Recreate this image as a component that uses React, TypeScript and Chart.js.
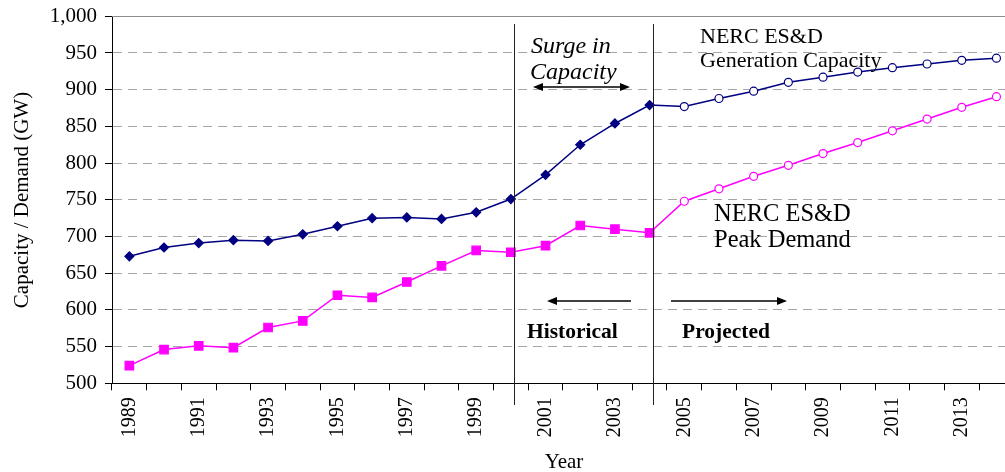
import React, { useEffect, useRef } from 'react';
import { Chart, registerables } from 'chart.js';

Chart.register(...registerables);

const YEARS = [
  '1989', '1990', '1991', '1992', '1993', '1994', '1995', '1996', '1997', '1998', '1999', '2000', '2001',
  '2002', '2003', '2004', '2005', '2006', '2007', '2008', '2009', '2010', '2011', '2012', '2013', '2014',
];
const CAPACITY = [
  673, 685, 691, 695, 694, 703, 714, 725, 726, 724, 733, 751, 784,
  825, 854, 879, 877, 888, 898, 910, 917, 924, 930, 935, 940, 943,
];
const DEMAND = [
  524, 546, 551, 548.5, 576, 585, 620, 617, 638, 660, 681, 678.5, 687.5,
  715, 710, 705, 748, 765, 782, 797, 813, 828, 844, 860, 876, 890.5,
];
const HISTORICAL_COUNT = 16; // 1989-2004 historical, 2005+ projected
const Y_MIN = 500;
const Y_MAX = 1000;
const Y_STEP = 50;

const NAVY = '#000080';
const MAGENTA = '#FF00FF';
const FONT = "'Liberation Serif', 'Times New Roman', serif";

function arrow(ctx: CanvasRenderingContext2D, x1: number, x2: number, y: number, headStart: boolean, headEnd: boolean) {
  ctx.save();
  ctx.strokeStyle = '#000';
  ctx.fillStyle = '#000';
  ctx.lineWidth = 1.5;
  const hl = 10;
  const hw = 4;
  ctx.beginPath();
  ctx.moveTo(x1 + (headStart ? hl - 2 : 0), y);
  ctx.lineTo(x2 - (headEnd ? hl - 2 : 0), y);
  ctx.stroke();
  if (headStart) {
    ctx.beginPath();
    ctx.moveTo(x1, y);
    ctx.lineTo(x1 + hl, y - hw);
    ctx.lineTo(x1 + hl, y + hw);
    ctx.closePath();
    ctx.fill();
  }
  if (headEnd) {
    ctx.beginPath();
    ctx.moveTo(x2, y);
    ctx.lineTo(x2 - hl, y - hw);
    ctx.lineTo(x2 - hl, y + hw);
    ctx.closePath();
    ctx.fill();
  }
  ctx.restore();
}

const annotationPlugin = {
  id: 'annotations',
  afterDraw(chart: any) {
    const ctx: CanvasRenderingContext2D = chart.ctx;
    const area = chart.chartArea;
    const xs = chart.scales.x;
    ctx.save();

    // top border of plot
    ctx.strokeStyle = '#8c8c8c';
    ctx.lineWidth = 1;
    ctx.beginPath();
    ctx.moveTo(area.left, Math.round(area.top) + 0.5);
    ctx.lineTo(area.right, Math.round(area.top) + 0.5);
    ctx.stroke();

    // historical / projected separators
    ctx.strokeStyle = '#222';
    [11.08, 15.1].forEach((v) => {
      const x = Math.round(xs.getPixelForValue(v)) + 0.5;
      ctx.beginPath();
      ctx.moveTo(x, 24);
      ctx.lineTo(x, 405);
      ctx.stroke();
    });

    ctx.fillStyle = '#000';
    ctx.textBaseline = 'middle';
    ctx.textAlign = 'left';

    ctx.font = `italic 24px ${FONT}`;
    ctx.fillText('Surge in', 531, 47);
    ctx.fillText('Capacity', 530, 73);
    arrow(ctx, 533, 630, 87, true, true);

    ctx.font = `22px ${FONT}`;
    ctx.fillText('NERC ES&D', 700, 37);
    ctx.fillText('Generation Capacity', 700, 61);

    ctx.font = `24.5px ${FONT}`;
    ctx.fillText('NERC ES&D', 714, 215);
    ctx.fillText('Peak Demand', 714, 241);

    arrow(ctx, 547, 631, 301, true, false);
    arrow(ctx, 671, 787, 301, false, true);

    ctx.font = `bold 21.5px ${FONT}`;
    ctx.fillText('Historical', 527, 332);
    ctx.fillText('Projected', 682, 332);

    // axis titles
    ctx.font = `21px ${FONT}`;
    ctx.textAlign = 'center';
    ctx.fillText('Year', 564, 462);
    ctx.save();
    ctx.translate(22, 200);
    ctx.rotate(-Math.PI / 2);
    ctx.fillText('Capacity / Demand (GW)', 0, 0);
    ctx.restore();

    ctx.restore();
  },
};

export default function App() {
  const canvasRef = useRef<HTMLCanvasElement | null>(null);

  useEffect(() => {
    const canvas = canvasRef.current;
    if (!canvas) return;
    const isHist = (i: number) => i < HISTORICAL_COUNT;
    const chart = new Chart(canvas, {
      type: 'line',
      data: {
        labels: YEARS,
        datasets: [
          {
            label: 'NERC ES&D Generation Capacity',
            data: CAPACITY,
            borderColor: NAVY,
            borderWidth: 1.5,
            tension: 0,
            pointStyle: CAPACITY.map((_, i) => (isHist(i) ? 'rectRot' : 'circle')) as any,
            pointRadius: CAPACITY.map((_, i) => (isHist(i) ? 4.5 : 4)),
            pointBackgroundColor: CAPACITY.map((_, i) => (isHist(i) ? NAVY : '#ffffff')),
            pointBorderColor: NAVY,
            pointBorderWidth: 1.2,
          },
          {
            label: 'NERC ES&D Peak Demand',
            data: DEMAND,
            borderColor: MAGENTA,
            borderWidth: 1.5,
            tension: 0,
            pointStyle: DEMAND.map((_, i) => (isHist(i) ? 'rect' : 'circle')) as any,
            pointRadius: DEMAND.map((_, i) => (isHist(i) ? 6 : 4)),
            pointBackgroundColor: DEMAND.map((_, i) => (isHist(i) ? MAGENTA : '#ffffff')),
            pointBorderColor: MAGENTA,
            pointBorderWidth: 1.2,
          },
        ],
      },
      options: {
        responsive: false,
        animation: false,
        devicePixelRatio: 1,
        layout: { padding: { top: 16.3, right: 1, left: 0, bottom: 0 } },
        plugins: {
          legend: { display: false },
          tooltip: { enabled: false },
        },
        scales: {
          x: {
            type: 'category',
            offset: true,
            grid: {
              offset: true,
              drawOnChartArea: false,
              drawTicks: true,
              tickLength: 7,
              color: '#000',
              tickColor: '#000',
            },
            border: { color: '#000', width: 1 },
            ticks: {
              autoSkip: false,
              minRotation: 90,
              maxRotation: 90,
              padding: 7,
              color: '#000',
              font: { family: FONT, size: 20 },
              callback: (_v: any, i: number) => (i % 2 === 0 ? YEARS[i] : ''),
            },
            afterFit: (s: any) => {
              s.height = 88.7;
              s.paddingLeft = 0;
              s.paddingRight = 0;
            },
          },
          y: {
            min: Y_MIN,
            max: Y_MAX,
            ticks: {
              stepSize: Y_STEP,
              padding: 8,
              color: '#000',
              font: { family: FONT, size: 21 },
              callback: (v: any) => Number(v).toLocaleString('en-US'),
            },
            grid: {
              color: (c: any) => (c.tick && (c.tick.value === Y_MIN || c.tick.value === Y_MAX) ? 'rgba(0,0,0,0)' : '#a6a6a6'),
              tickColor: '#000',
              tickLength: 7,
              lineWidth: 1,
            },
            border: { color: '#000', width: 1, dash: [9, 6] },
            afterFit: (s: any) => {
              s.width = 112;
              s.paddingTop = 0;
              s.paddingBottom = 0;
            },
          },
        },
      },
      plugins: [annotationPlugin],
    });
    return () => chart.destroy();
  }, []);

  return (
    <div style={{ position: 'absolute', left: 0, top: 0, width: 1005, height: 472, overflow: 'hidden', background: '#fff' }}>
      <canvas ref={canvasRef} width={1021} height={472} style={{ display: 'block' }} />
    </div>
  );
}
